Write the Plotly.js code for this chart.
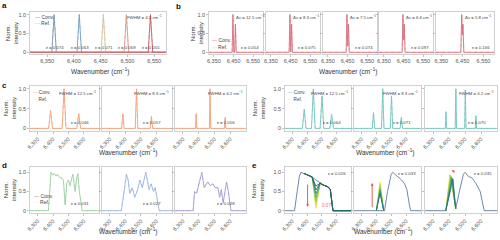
<!DOCTYPE html>
<html><head><meta charset="utf-8">
<script src="https://cdn.plot.ly/plotly-3.0.1.min.js"></script>
<style>html,body{margin:0;padding:0;background:#fff}#chart{width:500px;height:240px}</style>
</head><body><div id="chart"></div>
<script>
// ================= DATA =================
// Panel a: five single lines, FWHM 4.2 cm-1
const aCenters = [6363, 6410, 6455, 6498, 6543];
const aHeights = [1, 1, 1, 1, 1];
const aFwhm = 4.2;
const aEps = ['0.074', '0.063', '0.071', '0.069', '0.055'];

// Panel b: doublets with decreasing splitting
const bCenter = 6447;
const bSplits = [12.5, 8.3, 7.5, 6.6, 5.8];
const bHeights = [1.0, 0.75];
const bFwhm = 4.2;
const bEps = ['0.054', '0.075', '0.074', '0.097', '0.166'];

// Panel c (orange): three lines, three resolutions
const cCenters = [6384, 6472, 6568];
const cHeights = [[0.45, 1.0, 0.37], [0.37, 1.0, 0.30], [0.37, 1.0, 0.28]];
const cFwhm = [12.5, 8.3, 4.2];
const cEps = ['0.046', '0.057', '0.056'];

// Panel c (teal): four lines, three resolutions
const tCenters = [6381, 6443, 6502, 6568];
const tHeights = [[0.48, 1.0, 0.82, 0.35], [0.40, 1.0, 0.82, 0.28], [0.42, 1.0, 0.97, 0.32]];
const tFwhm = [12.5, 8.3, 4.2];
const tEps = ['0.064', '0.071', '0.070'];

// Panel d: broadband spectra
const d1X = [6250, 6370, 6387, 6398, 6409, 6420, 6429, 6442, 6457, 6468, 6479, 6490, 6501, 6511, 6520, 6529, 6538, 6544, 6553, 6562, 6572, 6585, 6590, 6700];
const d1Y = [0, 0, 1.0, 0.93, 0.97, 0.90, 0.95, 0.87, 0.85, 0.80, 0.15, 0.72, 0.80, 0.65, 0.80, 0.95, 0.70, 0.50, 0.80, 0.97, 0.50, 0.05, 0, 0];
const d2X = [6250, 6374, 6392, 6407, 6418, 6429, 6444, 6461, 6479, 6494, 6509, 6531, 6544, 6553, 6566, 6581, 6592, 6605, 6618, 6700];
const d2Y = [0, 0, 0.50, 0.95, 0.80, 0.45, 0.60, 0.35, 0.55, 0.80, 0.60, 1.0, 0.75, 0.55, 0.70, 0.50, 0.60, 0.30, 0, 0];
const d3X = [6250, 6365, 6374, 6387, 6405, 6420, 6435, 6457, 6474, 6490, 6505, 6522, 6533, 6544, 6555, 6577, 6588, 6605, 6700];
const d3Y = [0, 0, 0.50, 0.45, 0.75, 1.0, 0.60, 0.75, 0.65, 0.70, 0.60, 0.60, 0.35, 0.55, 0.20, 0.75, 0.50, 0, 0];
const dEps = ['0.031', '0.027', '0.028'];

// Panel e1: band with a growing dip
const e1X = [6250, 6315, 6333, 6348, 6359, 6381, 6413, 6435, 6461, 6490, 6505, 6522, 6544, 6559, 6570, 6577, 6700];
const e1Y = [0, 0, 0.50, 0.90, 1.0, 0.97, 0.92, 0.88, 0.80, 0.72, 0.68, 0.65, 0.62, 0.55, 0.20, 0, 0];
const e1DipDepths = [0.06, 0.14, 0.24, 0.34, 0.44, 0.54, 0.64];
// Panel e2: band with a growing side line
const e2X = [6250, 6455, 6475, 6500, 6510, 6530, 6550, 6570, 6590, 6605, 6620, 6630, 6700];
const e2Y = [0, 0, 0.50, 0.95, 1.0, 0.93, 0.88, 0.80, 0.70, 0.55, 0.20, 0, 0];
const e2LineX = [6400, 6425, 6450];
const e2LineHeights = [0.75, 0.69, 0.63, 0.57, 0.51, 0.45];
// Panel e3: band with a shifting side line
const e3X = [6250, 6380, 6425, 6442, 6465, 6490, 6500, 6520, 6545, 6570, 6595, 6612, 6620, 6700];
const e3Y = [0, 0, 0.82, 0.05, 0.50, 0.95, 1.0, 0.90, 0.85, 0.70, 0.50, 0.10, 0, 0];
const e3LineCenters = [6405, 6408, 6411, 6414, 6418, 6422];
const e3LineHeights = [0.95, 0.93, 0.91, 0.88, 0.85, 0.83];
const eEps = ['0.026', '0.033', '0.035'];

const familyColors = ['#f1e33b', '#c9dc46', '#8ec75a', '#55ad6c', '#2f9180', '#267577', '#205d6a'];

// ================= HELPERS =================
const FONT = 'Liberation Sans, Arial, sans-serif';
const W = 500, H = 240;
const X = p => p / W;
const Y = p => 1 - p / H;

function peakSpectrum(centers, heights, fwhm, xmin, xmax) {
  let xs = [xmin, xmax];
  centers.forEach(c => { xs.push(c - fwhm, c - fwhm / 2, c, c + fwhm / 2, c + fwhm); });
  xs = Array.from(new Set(xs)).sort((p, q) => p - q);
  const ys = xs.map(x => {
    let s = 0;
    centers.forEach((c, i) => { s += heights[i] * Math.max(0, 1 - Math.abs(x - c) / fwhm); });
    return s;
  });
  return {x: xs, y: ys};
}

const traces = [];
const layout = {
  width: W, height: H, margin: {l: 0, r: 0, t: 0, b: 0},
  paper_bgcolor: '#fff', plot_bgcolor: '#fff', showlegend: false,
  font: {family: FONT, size: 6, color: '#333'},
  annotations: []
};

function addAxes(i, xDom, yDom, xRange, yRange, xt, rotated, showY) {
  const xs = i === 1 ? '' : String(i);
  layout['xaxis' + xs] = {
    domain: [X(xDom[0]), X(xDom[1])], range: xRange, anchor: 'y' + xs,
    tickvals: xt, ticktext: xt.map(v => v.toLocaleString('en-US')),
    tickangle: rotated ? -45 : 0, ticks: 'outside', ticklen: 2, tickwidth: 0.6, tickcolor: '#999',
    tickfont: {size: 5.5, color: '#555', family: FONT},
    showline: true, mirror: true, linecolor: '#c4c4c4', linewidth: 0.8,
    showgrid: false, zeroline: false, fixedrange: true
  };
  layout['yaxis' + xs] = {
    domain: [Y(yDom[1]), Y(yDom[0])], range: yRange, anchor: 'x' + xs,
    tickvals: [0, 0.5, 1], ticktext: ['0', '0.5', '1.0'], showticklabels: showY,
    ticks: 'outside', ticklen: 2, tickwidth: 0.6, tickcolor: '#999',
    tickfont: {size: 5.5, color: '#555', family: FONT},
    showline: true, mirror: true, linecolor: '#c4c4c4', linewidth: 0.8,
    showgrid: false, zeroline: false, fixedrange: true
  };
}

function line(i, x, y, color, dash, width) {
  const s = i === 1 ? '' : String(i);
  traces.push({x: x, y: y, xaxis: 'x' + s, yaxis: 'y' + s, type: 'scatter', mode: 'lines',
    line: {color: color, width: width || 0.9, dash: dash || 'solid'}, hoverinfo: 'skip'});
}

const SMALL = 5;
function ann(i, x, y, text, opts) {
  const s = i === 1 ? '' : String(i);
  layout.annotations.push(Object.assign({xref: 'x' + s, yref: 'y' + s, x: x, y: y, text: text,
    showarrow: false, font: {size: SMALL, color: '#444', family: FONT}, xanchor: 'center', yanchor: 'middle'}, opts || {}));
}

function pann(px, py, text, opts) {
  layout.annotations.push(Object.assign({xref: 'paper', yref: 'paper', x: X(px), y: Y(py), text: text,
    showarrow: false, font: {size: 6.5, color: '#333', family: FONT}, xanchor: 'center', yanchor: 'middle'}, opts || {}));
}

function legend(i, x, y1, y2, color, refColor, size) {
  const f = {size: size || SMALL, color: '#444', family: FONT};
  ann(i, x, y1, '<span style="color:' + color + '">—</span> Conv.', {xanchor: 'left', font: f});
  ann(i, x, y2, '<span style="color:' + refColor + '">- -</span> Ref.', {xanchor: 'left', font: f});
}

const EPS = '<i>ε</i> = ';
const CM = ' cm<sup>−1</sup>';
const TINY = {size: 4.3, color: '#444', family: FONT};

// ================= LAYOUT GEOMETRY =================
const row1 = [12, 54], row2 = [86, 131], row3 = [167, 213];
const leftCols = [[30, 99], [102, 172], [175, 246]];
const rightCols = [[285, 351], [354, 421], [425, 497]];
const bCols = [[209, 263], [266, 320], [323, 377], [379, 433], [436, 494]];
const wideTicks = [6300, 6400, 6500, 6600];

// ---- panel a (axis 1)
const aColors = ['#7b93b5', '#6aa3c8', '#d8c49e', '#da968a', '#c85563'];
addAxes(1, [30, 166], row1, [6318, 6572], [-0.045, 1.07], [6350, 6400, 6450, 6500, 6550], false, true);
aCenters.forEach((c, k) => {
  const s = peakSpectrum([c], [aHeights[k]], aFwhm, 6318, 6572);
  line(1, s.x, s.y, '#c0c0c0', 'dot', 0.8);
  line(1, s.x, s.y, aColors[k], 'solid', 0.9);
  ann(1, c + 1, 0.13, EPS + aEps[k], {font: TINY});
});
ann(1, 6568, 0.95, 'FWHM = 4.2' + CM, {xanchor: 'right', font: TINY});
legend(1, 6324, 0.93, 0.77, '#7b93b5', '#9a9a9a');

// ---- panel b (axes 2-6)
const bColor = '#d96f7e', bRef = '#ebb0b8';
bSplits.forEach((d, k) => {
  const i = 2 + k;
  addAxes(i, bCols[k], row1, [6325, 6600], [-0.045, 1.07], [6350, 6450, 6550], false, k === 0);
  const s = peakSpectrum([bCenter, bCenter + d], bHeights, bFwhm, 6325, 6600);
  line(i, s.x, s.y, bRef, 'dot', 0.8);
  line(i, s.x, s.y, bColor, 'solid', 0.9);
  ann(i, 6452, 0.95, 'Δ<i>ν</i> = ' + d + CM, {xanchor: 'left', font: TINY});
  ann(i, 6592, 0.13, EPS + bEps[k], {xanchor: 'right', font: TINY});
});
legend(2, 6330, 0.32, 0.15, bColor, bRef);

// ---- panel c orange (axes 7-9) and teal (10-12)
const cColor = '#f3a27a', cRef = '#f8caae';
const tColor = '#74c5bc', tRef = '#b0ded8';
cFwhm.forEach((f, k) => {
  const i = 7 + k;
  addAxes(i, leftCols[k], row2, [6250, 6700], [-0.065, 1.07], wideTicks, true, k === 0);
  const s = peakSpectrum(cCenters, cHeights[k], f, 6250, 6700);
  line(i, s.x, s.y, cRef, 'dot', 0.8);
  line(i, s.x, s.y, cColor, 'solid', 0.9);
  ann(i, 6692, 0.9, 'FWHM = ' + f + CM, {xanchor: 'right', font: TINY});
  ann(i, 6645, 0.15, EPS + cEps[k], {xanchor: 'right', font: TINY});
});
legend(7, 6256, 0.9, 0.73, cColor, cRef, 4.6);
tFwhm.forEach((f, k) => {
  const i = 10 + k;
  addAxes(i, rightCols[k], row2, [6250, 6700], [-0.065, 1.07], wideTicks, true, k === 0);
  const s = peakSpectrum(tCenters, tHeights[k], f, 6250, 6700);
  line(i, s.x, s.y, tRef, 'dot', 0.8);
  line(i, s.x, s.y, tColor, 'solid', 0.9);
  ann(i, 6692, 0.9, 'FWHM = ' + f + CM, {xanchor: 'right', font: TINY});
  ann(i, 6645, 0.15, EPS + tEps[k], {xanchor: 'right', font: TINY});
});
legend(10, 6256, 0.9, 0.73, tColor, tRef, 4.6);

// ---- panel d (axes 13-15)
const dX = [d1X, d2X, d3X], dY = [d1Y, d2Y, d3Y];
const dColors = ['#9dd0a2', '#98b7dc', '#a69bd2'];
const dRefs = ['#c6e6c8', '#c3d5ec', '#cbc4e6'];
dX.forEach((xs, k) => {
  const i = 13 + k;
  addAxes(i, leftCols[k], row3, [6250, 6700], [-0.06, 1.14], wideTicks, true, k === 0);
  line(i, xs, dY[k], dRefs[k], 'dot', 0.8);
  line(i, xs, dY[k], dColors[k], 'solid', 0.9);
  ann(i, 6645, 0.18, EPS + dEps[k], {xanchor: 'right', font: TINY});
});
ann(13, 6262, 0.38, '<span style="color:#8a8a8a">—</span> Conv.', {xanchor: 'left'});
ann(13, 6262, 0.23, '<span style="color:' + dRefs[0] + '">- -</span> Ref.', {xanchor: 'left'});

// ---- panel e (axes 16-18)
const eBase = '#5e7c9d';
[16, 17, 18].forEach((i, k) => addAxes(i, rightCols[k], row3, [6250, 6700], [-0.06, 1.14], wideTicks, true, k === 0));
// e1
line(16, e1X, e1Y, eBase, 'solid', 0.9);
e1DipDepths.forEach((dpt, k) => {
  const ys = e1Y.slice(5);
  ys[3] = dpt;
  line(16, e1X.slice(5), ys, familyColors[k], 'solid', 0.9);
});
// e2
line(17, e2X, e2Y, eBase, 'solid', 0.9);
e2LineHeights.forEach((h, k) => line(17, e2LineX, [0, h, 0], familyColors[k], 'solid', 0.9));
// e3
line(18, e3X, e3Y, eBase, 'solid', 0.9);
e3LineCenters.forEach((c, k) => line(18, [6380, c, 6442], [0, e3LineHeights[k], 0.05], familyColors[k], 'solid', 0.9));
eEps.forEach((v, k) => ann(16 + k, 6680, 0.98, EPS + v, {xanchor: 'right', font: TINY}));
const red = '#e0474c';
layout.annotations.push({xref: 'x16', yref: 'y16', axref: 'x16', ayref: 'y16', x: 6404, y: 0.1, ax: 6404, ay: 0.72,
  text: '', showarrow: true, arrowhead: 2, arrowsize: 0.6, arrowwidth: 0.9, arrowcolor: red});
ann(16, 6535, 0.13, '0.07', {font: {size: 4.6, color: '#ec6b6f', family: FONT}});
layout.annotations.push({xref: 'x17', yref: 'y17', axref: 'x17', ayref: 'y17', x: 6372, y: 0.72, ax: 6372, ay: 0.05,
  text: '', showarrow: true, arrowhead: 2, arrowsize: 0.6, arrowwidth: 0.9, arrowcolor: red});
layout.annotations.push({xref: 'x18', yref: 'y18', axref: 'x18', ayref: 'y18', x: 6418, y: 1.06, ax: 6445, ay: 0.97,
  text: '', showarrow: true, arrowhead: 2, arrowsize: 0.6, arrowwidth: 0.9, arrowcolor: red});

// ---- paper-level labels
const WN = 'Wavenumber (cm<sup>−1</sup>)';
pann(100, 71, WN); pann(348, 71, WN);
pann(128, 152, WN); pann(385, 152, WN);
pann(128, 231, WN); pann(383, 231, WN);
const NI = 'Norm.<br>intensity';
[[12, 33], [197, 33], [10, 108], [259, 108], [10, 190], [258, 190]].forEach(p =>
  pann(p[0], p[1], NI, {textangle: -90, font: {size: 6, color: '#333', family: FONT}}));
[['a', 4, 5], ['b', 178, 6], ['c', 4, 85], ['d', 4, 165], ['e', 254, 165]].forEach(p =>
  pann(p[1], p[2], '<b>' + p[0] + '</b>', {font: {size: 8, color: '#111', family: FONT}}));

Plotly.newPlot('chart', traces, layout, {staticPlot: true, displayModeBar: false}).then(() => {
  // drop the empty placeholder title texts Plotly leaves for untitled axes
  document.querySelectorAll('#chart text').forEach(t => { if (!t.textContent.trim()) t.remove(); });
});
</script>
</body></html>
